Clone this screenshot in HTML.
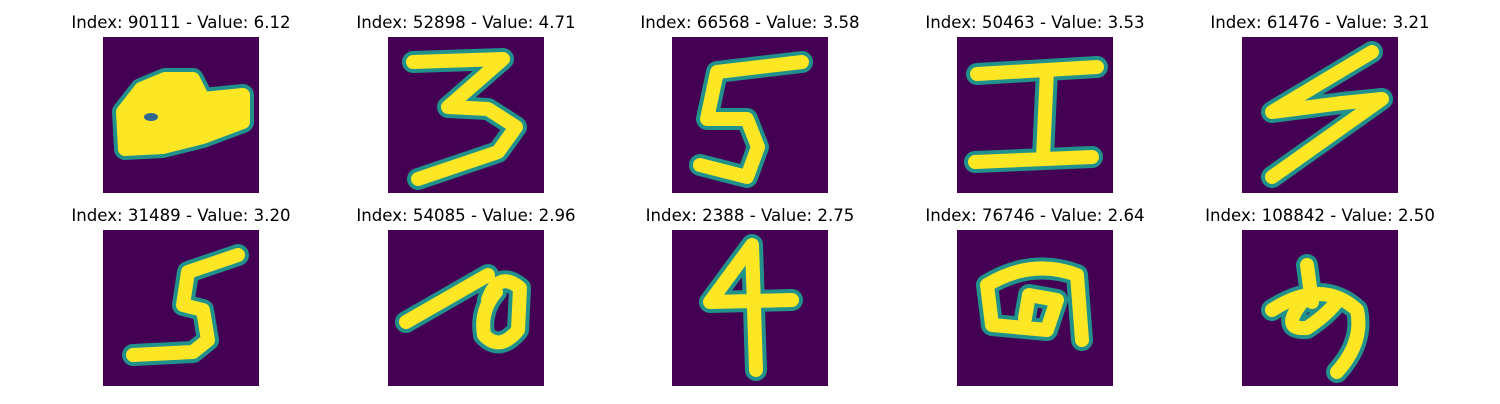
<!DOCTYPE html>
<html><head><meta charset="utf-8"><style>
body{margin:0;background:#fff;width:1500px;height:400px;overflow:hidden;font-family:"DejaVu Sans","Liberation Sans",sans-serif}
</style></head><body>
<svg id="fig" width="1500" height="400"></svg>
<script>
const titles=["Index: 90111 - Value: 6.12","Index: 52898 - Value: 4.71","Index: 66568 - Value: 3.58","Index: 50463 - Value: 3.53","Index: 61476 - Value: 3.21","Index: 31489 - Value: 3.20","Index: 54085 - Value: 2.96","Index: 2388 - Value: 2.75","Index: 76746 - Value: 2.64","Index: 108842 - Value: 2.50"];
const xs=[103,388,672,957,1242];
const ys=[37,230];
const paths=[
 "M22,112 L20,75 L38,52 L62,42 L90,42 L100,62 L140,58 L140,85 L100,100 L60,110 Z",
 "M25,25 L115,22 L60,70 L100,72 L128,90 L110,115 L30,142",
 "M130,25 L45,35 L35,82 L75,82 L86,110 L75,140 L28,128",
 "M20,37 L140,30 M90,33 L86,120 M18,125 L135,120",
 "M130,15 L30,75 L100,66 L140,62 L30,140",
 "M135,25 L85,42 L80,75 L100,80 L105,110 L90,122 L30,125",
 "M18,92 L100,45 M100,70 Q110,40 132,58 L130,100 Q112,122 96,105 Q92,80 108,62",
 "M38,72 L80,15 L84,140 M38,72 L120,70",
 "M30,55 Q75,28 120,45 L125,110 M30,55 L35,95 L90,100 L100,70 L72,65 L68,88",
 "M65,35 L70,72 M30,80 Q80,48 115,80 Q122,112 95,142 M60,72 Q38,100 65,98 Q86,84 96,70"
];
const NS="http://www.w3.org/2000/svg";
const svg=document.getElementById('fig');
function mk(t,a){const e=document.createElementNS(NS,t);for(const k in a)e.setAttribute(k,a[k]);svg.appendChild(e);return e;}
titles.forEach((t,i)=>{
 const x=xs[i%5],y=ys[Math.floor(i/5)];
 const tx=mk('text',{x:x+78,y:y-9,'text-anchor':'middle','font-size':'16.6',fill:'#000'});
 tx.textContent=t;
 
 
 const r=mk('rect',{x:x,y:y,width:156,height:156,fill:'#440154'});
 
 
 const g=document.createElementNS(NS,'g');g.setAttribute('transform',`translate(${x},${y})`);svg.appendChild(g);
 const fillIt=i===0;
 [['#21918c',22],['#fde725',14]].forEach(([c,w])=>{
  const p=document.createElementNS(NS,'path');
  p.setAttribute('d',paths[i]);p.setAttribute('stroke',c);p.setAttribute('stroke-width',w);
  p.setAttribute('fill',fillIt?c:'none');p.setAttribute('stroke-linejoin','round');p.setAttribute('stroke-linecap','round');
  
  
  g.appendChild(p);
 });
 if(fillIt){const h=document.createElementNS(NS,'ellipse');h.setAttribute('cx',48);h.setAttribute('cy',80);h.setAttribute('rx',7);h.setAttribute('ry',4);h.setAttribute('fill','#31688e');g.appendChild(h);}
});
</script>
</body></html>
